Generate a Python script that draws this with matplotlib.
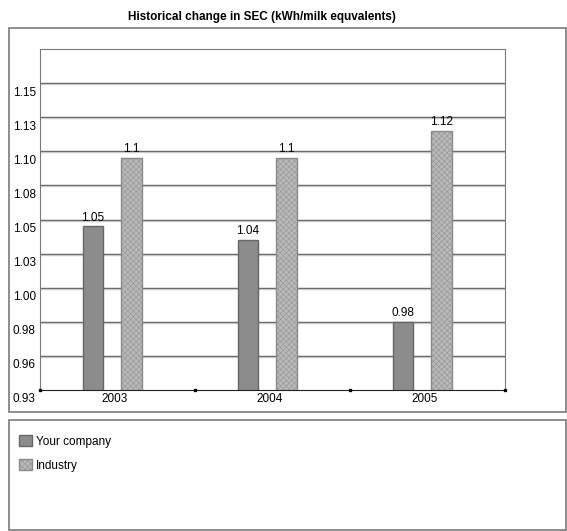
import matplotlib
matplotlib.use("Agg")
import matplotlib.pyplot as plt
import matplotlib.transforms as mtransforms
from matplotlib.patches import Rectangle

# data
years = ["2003", "2004", "2005"]
your_company = [1.05, 1.04, 0.98]
industry = [1.10, 1.10, 1.12]
tick_values = [0.93, 0.955, 0.98, 1.005, 1.03, 1.055, 1.08, 1.105, 1.13, 1.155]
tick_labels = ["0.93", "0.96", "0.98", "1.00", "1.03", "1.05", "1.08", "1.10", "1.13", "1.15"]

W, H = 567, 531
plt.rcParams["font.family"] = ["Liberation Sans", "DejaVu Sans"]
plt.rcParams["hatch.color"] = "#a8a8a8"
plt.rcParams["hatch.linewidth"] = 0.3
fig = plt.figure(figsize=(W / 100, H / 100), dpi=100)


def px(x0, y0, x1, y1):
    # pixel box (top-left origin) -> figure fraction rect
    return [x0 / W, 1 - y1 / H, (x1 - x0) / W, (y1 - y0) / H]


# outer frames
for (x0, y0, x1, y1) in [(9, 28, 566, 412), (9, 420, 566, 530)]:
    r = px(x0, y0, x1, y1)
    fig.patches.append(Rectangle((r[0], r[1]), r[2], r[3], transform=fig.transFigure,
                                 fill=False, edgecolor="#7a7a7a", lw=1.2))

fig.text(262 / W, 1 - 17 / H, "Historical change in SEC (kWh/milk equvalents)",
         ha="center", va="center", fontsize=8.5, fontweight="bold")

ax = fig.add_axes(px(40, 49, 505, 390))
ax.set_xlim(-0.5, 2.5)
ax.set_ylim(0.93, 1.18)

# grid lines (dark line with a light shadow under it)
for v in tick_values[1:]:
    ax.axhline(v, color="#555555", lw=1.0, zorder=1)
    ax.axhline(v - 0.0008, color="#c8c8c8", lw=1.0, zorder=1)

bw = 0.135
x = range(len(years))
b1 = ax.bar([i - 0.158 for i in x], your_company, width=bw, color="#8c8c8c",
            edgecolor="#666666", lw=1, zorder=2, label="Your company")
b2 = ax.bar([i + 0.09 for i in x], industry, width=bw, color="#b8b8b8",
            edgecolor="#8a8a8a", lw=1, hatch="xxxxxx", zorder=2, label="Industry")

for bars, vals in [(b1, your_company), (b2, industry)]:
    for b, v in zip(bars, vals):
        ax.annotate(f"{round(v, 2):g}", (b.get_x() + b.get_width() / 2, v),
                    xytext=(0, 2), textcoords="offset points",
                    ha="center", va="bottom", fontsize=8.5)

for s in ["top", "right", "left"]:
    ax.spines[s].set_color("#7a7a7a")
ax.spines["bottom"].set_color("#222222")
ax.spines["bottom"].set_zorder(3)

ax.set_yticks(tick_values, tick_labels, fontsize=8.5)
ax.tick_params(axis="y", length=0, pad=3)
shift = mtransforms.ScaledTranslation(0, -0.08, fig.dpi_scale_trans)
for lab in ax.get_yticklabels():
    lab.set_transform(lab.get_transform() + shift)

ax.set_xticks([])
ax.plot([-0.5, 0.5, 1.5, 2.5], [0.93] * 4, "s", ms=2, color="black", clip_on=False, zorder=4)
for i, yr in enumerate(years):
    ax.annotate(yr, (i - 0.02, 0.93), xytext=(0, -2), textcoords="offset points",
                ha="center", va="top", fontsize=8.5)

fig.legend(handles=[b1, b2], loc="upper left", bbox_to_anchor=(19 / W, 1 - 435 / H),
           frameon=False, fontsize=8.5, handlelength=1.1, handleheight=1.1,
           handletextpad=0.35, labelspacing=0.95, borderaxespad=0, borderpad=0)

fig.savefig("out.png", dpi=100)
